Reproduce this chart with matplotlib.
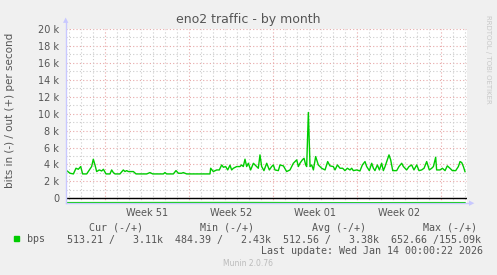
import numpy as np
import matplotlib
matplotlib.use("Agg")
import matplotlib.pyplot as plt
from matplotlib.patches import Rectangle

# out (+) traffic, k bits/s, position in days from the first day gridline
out_days = [-0.22, 0.06, 0.34, 0.56, 0.75, 0.95, 1.11, 1.45, 1.67, 1.86, 2.00, 2.14, 2.28, 2.50,
            2.70, 2.84, 3.06, 3.39, 3.53, 3.67, 3.81, 4.22, 4.50, 4.64, 4.78, 4.92, 5.06, 5.34,
            5.56, 6.45, 6.72, 6.95, 7.84, 7.97, 8.11, 8.67, 8.89, 9.09, 9.36, 9.50, 9.78, 11.72,
            11.78, 12.00, 12.28, 12.50, 12.70, 12.84, 13.03, 13.20, 13.39, 13.53, 13.67, 13.95,
            14.22, 14.36, 14.50, 14.64, 14.78, 14.92, 15.11, 15.34, 15.61, 15.75, 15.89, 16.03,
            16.22, 16.45, 16.67, 16.86, 17.00, 17.14, 17.42, 17.56, 17.84, 18.11, 18.39, 18.67,
            18.81, 18.95, 19.09, 19.22, 19.42, 19.56, 19.70, 19.78, 19.92, 20.06, 20.20, 20.34,
            20.53, 20.75, 21.03, 21.31, 21.53, 21.72, 22.00, 22.14, 22.34, 22.56, 22.78, 22.97,
            23.17, 23.39, 23.53, 23.67, 23.95, 24.22, 24.42, 24.64, 24.78, 25.00, 25.20, 25.34,
            25.47, 25.67, 25.84, 26.03, 26.17, 26.31, 26.50, 26.64, 26.78, 26.95, 27.28, 27.47,
            27.70, 27.84, 28.11, 28.31, 28.53, 28.72, 28.95, 29.14, 29.36, 29.56, 29.78, 30.00,
            30.20, 30.34, 30.53, 30.61, 30.89, 31.09, 31.31, 31.50, 31.72, 31.92, 32.20, 32.42,
            32.56, 32.70, 32.84, 32.97]
out_kbps = [3.27, 2.96, 2.88, 3.55, 3.43, 3.75, 2.88, 2.88, 3.35, 3.75, 4.62, 3.94, 3.16, 3.35,
            3.23, 3.43, 2.88, 2.88, 3.35, 3.04, 2.88, 2.88, 3.35, 3.16, 3.27, 3.16, 3.16, 3.16,
            2.88, 2.88, 3.04, 2.88, 2.88, 3.04, 2.88, 2.88, 3.27, 2.96, 2.96, 3.04, 2.88, 2.88,
            3.55, 3.16, 3.35, 3.35, 3.94, 3.67, 3.75, 3.35, 3.91, 3.35, 3.55, 3.75,
            3.75, 3.94, 3.75, 4.62, 3.75, 4.14, 3.35, 4.14, 3.75, 3.55, 5.13, 3.75,
            3.27, 4.14, 3.35, 3.75, 3.94, 3.35, 3.27, 3.94, 3.83, 3.16, 3.35, 4.14,
            4.34, 4.54, 3.75, 4.14, 4.54, 4.73, 3.94, 3.75, 10.14, 3.75, 3.94, 3.35,
            4.93, 3.94, 3.55, 3.35, 4.34, 3.83, 3.75, 3.35, 3.94, 3.55, 3.55, 3.27,
            3.55, 3.35, 3.55, 3.27, 3.35, 3.23, 3.94, 4.34, 3.75, 3.27, 4.14, 3.55,
            3.27, 3.94, 3.35, 4.14, 3.27, 3.75, 4.54, 5.13, 4.54, 3.27, 3.27, 3.75,
            4.14, 3.75, 3.35, 3.75, 3.94, 3.35, 3.94, 3.27, 3.35, 3.55, 4.34, 3.35,
            3.55, 3.75, 4.85, 3.35, 3.35, 3.55, 3.27, 3.83, 3.55, 3.27, 3.27, 3.75,
            4.34, 4.22, 3.75, 3.16]

# in (-) traffic, bits/s
in_days = [-0.22, 5.0, 10.0, 15.0, 20.0, 25.0, 30.0, 32.97]
in_bps = [510, 505, 500, 500, 515, 520, 510, 513]

week_starts = [3, 10, 17, 24, 31]
week_labels = ["Week 51", "Week 52", "Week 01", "Week 02"]
week_centers = [6.5, 13.5, 20.5, 27.5]
y_ticks = [0, 2000, 4000, 6000, 8000, 10000, 12000, 14000, 16000, 18000, 20000]
y_labels = ["0", "2 k", "4 k", "6 k", "8 k", "10 k", "12 k", "14 k", "16 k", "18 k", "20 k"]

legend_heads = ["Cur (-/+)", "Min (-/+)", "Avg (-/+)", "Max (-/+)"]
legend_vals = "513.21 /   3.11k  484.39 /   2.43k  512.56 /   3.38k  652.66 /155.09k"

W, H = 497, 275
fig = plt.figure(figsize=(W / 100, H / 100), dpi=100, facecolor="#F0F0F0")
ax = fig.add_axes([66 / W, 1 - 203.3 / H, 401 / W, (203.3 - 29) / H])
ax.set_facecolor("white")
ax.set_xlim(-0.275, 33.14)
ax.set_ylim(-590, 20000)

txt = "#555555"
dot = (0, (1, 2))
# grid
for v in range(0, 21):
    c = "#E8A8A8" if v % 2 == 0 else "#CCCCCC"
    ax.axhline(v * 1000, color=c, lw=0.8, ls=dot, zorder=1)
for d in range(0, 34):
    c = "#E8A8A8" if d in week_starts else "#CCCCCC"
    ax.axvline(d, color=c, lw=0.8, ls=dot, zorder=1)

ax.axhline(0, color="black", lw=1.0, zorder=3)
ax.plot(out_days, np.array(out_kbps) * 1000, color="#00CC00", lw=1.0, zorder=4)
ax.plot(in_days, -np.array(in_bps), color="#00CC00", lw=1.0, zorder=4)

for s in ax.spines.values():
    s.set_visible(False)
ax.set_yticks(y_ticks)
ax.set_yticklabels(y_labels)
ax.set_xticks(week_centers)
ax.set_xticklabels(week_labels)
ax.tick_params(axis="y", length=0, pad=5, labelsize=7, labelcolor=txt)
ax.tick_params(axis="x", length=0, pad=3.5, labelsize=7, labelcolor=txt)

# axis lines with arrows
axc = "#C8C8FF"
fig.add_artist(plt.Line2D([66 / W, 66 / W], [1 - 203.3 / H, 1 - 22 / H], color=axc, lw=1))
fig.add_artist(plt.Line2D([66 / W, 470 / W], [1 - 203.3 / H, 1 - 203.3 / H], color=axc, lw=1))
fig.text(66 / W, 1 - 20 / H, "\u25B2", color=axc, fontsize=5, ha="center", va="center")
fig.text(472 / W, 1 - 203.3 / H, "\u25B6", color=axc, fontsize=5, ha="center", va="center")

fig.text(248 / W, 1 - 19 / H, "eno2 traffic - by month", ha="center", va="center",
         fontsize=9, color=txt)
fig.text(10 / W, 1 - 110 / H, "bits in (-) / out (+) per second", rotation=90,
         ha="center", va="center", fontsize=7.5, color=txt)
fig.text(488 / W, 1 - 15 / H, "RRDTOOL / TOBI OETIKER", rotation=270, ha="center",
         va="top", fontsize=5, color="#C8C8C8")

mono = "DejaVu Sans Mono"
for x, h in zip([89.3, 200, 311.7, 422.7], legend_heads):
    fig.text(x / W, 1 - 228 / H, h, family=mono, fontsize=7.2, color=txt, va="center")
fig.add_artist(Rectangle((13.5 / W, 1 - 241 / H), 5 / W, 5 / H, transform=fig.transFigure,
                         color="#00CC00"))
fig.text(26.7 / W, 1 - 239.5 / H, "bps", family=mono, fontsize=7.2, color=txt, va="center")
fig.text(66.7 / W, 1 - 239.5 / H, legend_vals, family=mono, fontsize=7.2, color=txt, va="center")
fig.text(482.7 / W, 1 - 251 / H, "Last update: Wed Jan 14 00:00:22 2026", family=mono,
         fontsize=7.2, color=txt, ha="right", va="center")
fig.text(248 / W, 1 - 264 / H, "Munin 2.0.76", fontsize=5.5, color="#BBBBBB",
         ha="center", va="center")

fig.savefig("out.png", dpi=100, facecolor=fig.get_facecolor())
